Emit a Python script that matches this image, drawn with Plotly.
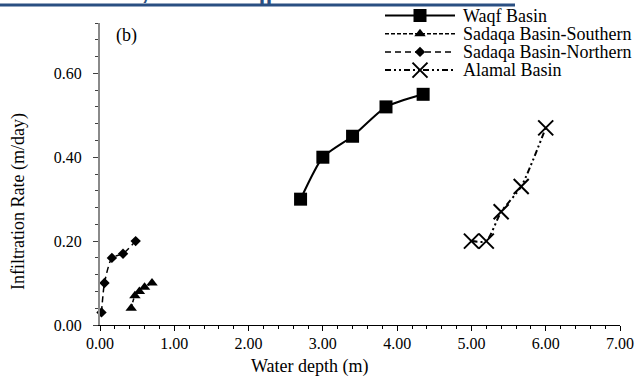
import plotly.graph_objects as go

# ---- data -------------------------------------------------------------
series_names = ["Waqf Basin", "Sadaqa Basin-Southern",
                "Sadaqa Basin-Northern", "Alamal Basin"]

waqf_depth = [2.70, 3.00, 3.40, 3.85, 4.35]
waqf_rate = [0.30, 0.40, 0.45, 0.52, 0.55]

south_depth = [0.42, 0.47, 0.53, 0.60, 0.70]
south_rate = [0.04, 0.07, 0.08, 0.09, 0.10]

north_depth = [0.02, 0.06, 0.16, 0.31, 0.48]
north_rate = [0.03, 0.10, 0.16, 0.17, 0.20]

alamal_depth = [5.00, 5.20, 5.40, 5.67, 6.00]
alamal_rate = [0.20, 0.20, 0.27, 0.33, 0.47]

x_ticks = [0, 1, 2, 3, 4, 5, 6, 7]
y_ticks = [0.0, 0.2, 0.4, 0.6]

# ---- page geometry (pixels) --------------------------------------------
W, H = 638, 377
PLOT_L, PLOT_R, PLOT_T, PLOT_B = 100, 620, 23, 325


def px(x):
    return x / W


def py(y):
    return 1 - y / H


SERIF = "Liberation Serif"
BLACK = "#000000"

styles = [
    dict(dash="solid", symbol="square", size=13, lw=2),
    dict(dash="4px,2px", symbol="triangle-up", size=10, lw=1.5),
    dict(dash="6px,4px", symbol="diamond", size=8, lw=1.5),
    dict(dash="6px,3px,2px,3px,2px,3px", symbol="x-thin", size=15, lw=2),
]
data = [(waqf_depth, waqf_rate), (south_depth, south_rate),
        (north_depth, north_rate), (alamal_depth, alamal_rate)]


def marker_for(st):
    m = dict(symbol=st["symbol"], size=st["size"], color=BLACK)
    if st["symbol"] == "x-thin":
        m["line"] = dict(width=2, color=BLACK)
    else:
        m["line"] = dict(width=0)
    return m


fig = go.Figure()

for name, (xs, ys), st in zip(series_names, data, styles):
    fig.add_trace(go.Scatter(
        x=xs, y=ys, name=name, mode="lines+markers",
        line=dict(color=BLACK, width=st["lw"], dash=st["dash"],
                  shape="spline", smoothing=0.6),
        marker=marker_for(st), cliponaxis=False, showlegend=False,
        xaxis="x", yaxis="y",
    ))

# ---- legend keys drawn on a full-page pixel subplot --------------------
LEG_X0, LEG_X1, LEG_XM, LEG_TEXT_X = 385, 455, 420, 461
LEG_ROW0, LEG_ROW_STEP = 15.5, 18.2
for i, (name, st) in enumerate(zip(series_names, styles)):
    row_y = LEG_ROW0 + i * LEG_ROW_STEP
    fig.add_trace(go.Scatter(
        x=[LEG_X0, LEG_X1], y=[row_y, row_y], mode="lines",
        line=dict(color=BLACK, width=st["lw"], dash=st["dash"]),
        showlegend=False, hoverinfo="skip", xaxis="x2", yaxis="y2",
    ))
    fig.add_trace(go.Scatter(
        x=[LEG_XM], y=[row_y], mode="markers", marker=marker_for(st),
        showlegend=False, hoverinfo="skip", xaxis="x2", yaxis="y2",
    ))
    fig.add_annotation(
        x=px(LEG_TEXT_X), y=py(row_y), xref="paper", yref="paper",
        text=name, showarrow=False, xanchor="left", yanchor="middle",
        font=dict(family=SERIF, size=18, color=BLACK),
    )

axis_font = dict(family=SERIF, size=16, color=BLACK)

fig.update_layout(
    width=W, height=H,
    margin=dict(l=0, r=0, t=0, b=0, autoexpand=False),
    paper_bgcolor="white", plot_bgcolor="rgba(0,0,0,0)",
    showlegend=False,
    xaxis=dict(
        domain=[px(PLOT_L), px(PLOT_R)], anchor="y", automargin=False,
        range=[0, 7], tickvals=x_ticks, tickformat=".2f",
        showgrid=False, zeroline=False,
        showline=True, linecolor=BLACK, linewidth=1,
        ticks="outside", ticklen=5, tickcolor=BLACK, tickwidth=1,
        minor=dict(dtick=0.2, tick0=0, ticks="outside", ticklen=3,
                   tickcolor=BLACK, tickwidth=1, showgrid=False),
        tickfont=axis_font, ticklabelstandoff=-1,
    ),
    yaxis=dict(
        domain=[1 - PLOT_B / H, 1 - PLOT_T / H], anchor="x", automargin=False,
        range=[0, 0.72], tickvals=y_ticks, tickformat=".2f",
        showgrid=False, zeroline=False,
        showline=True, linecolor="#8a8a8a", linewidth=2,
        ticks="outside", ticklen=5, tickcolor="#404040", tickwidth=1,
        minor=dict(dtick=0.04, tick0=0, ticks="outside", ticklen=3,
                   tickcolor="#404040", tickwidth=1, showgrid=False),
        tickfont=axis_font, ticklabelstandoff=8,
    ),
    xaxis2=dict(domain=[0, 1], range=[0, W], anchor="y2", visible=False,
                fixedrange=True),
    yaxis2=dict(domain=[0, 1], range=[H, 0], anchor="x2", visible=False,
                fixedrange=True),
)

# axis titles and panel tag
fig.add_annotation(x=px(310), y=py(354), xref="paper", yref="paper",
                   text="Water depth (m)", showarrow=False,
                   xanchor="center", yanchor="top",
                   font=dict(family=SERIF, size=18, color=BLACK))
fig.add_annotation(x=px(18), y=py(202), xref="paper", yref="paper",
                   text="Infiltration Rate (m/day)", showarrow=False,
                   textangle=-90, xanchor="center", yanchor="middle",
                   font=dict(family=SERIF, size=18, color=BLACK))
fig.add_annotation(x=px(114), y=py(35), xref="paper", yref="paper",
                   text="(b)", showarrow=False,
                   xanchor="left", yanchor="middle",
                   font=dict(family=SERIF, size=18, color=BLACK))

# journal running header
HEADER_BLUE = "#2a4f82"
fig.add_annotation(x=px(12), y=py(6), xref="paper", yref="paper",
                   text="<b>VOLUME 6, ISSUE 6 || WWW.IJASRE.NET</b>",
                   showarrow=False, xanchor="left", yanchor="bottom",
                   font=dict(family="Liberation Sans", size=25,
                             color=HEADER_BLUE))
fig.add_shape(type="line", xref="paper", yref="paper",
              x0=0, x1=px(515), y0=py(5), y1=py(5),
              line=dict(color=HEADER_BLUE, width=3))

fig.write_html("out.html")
